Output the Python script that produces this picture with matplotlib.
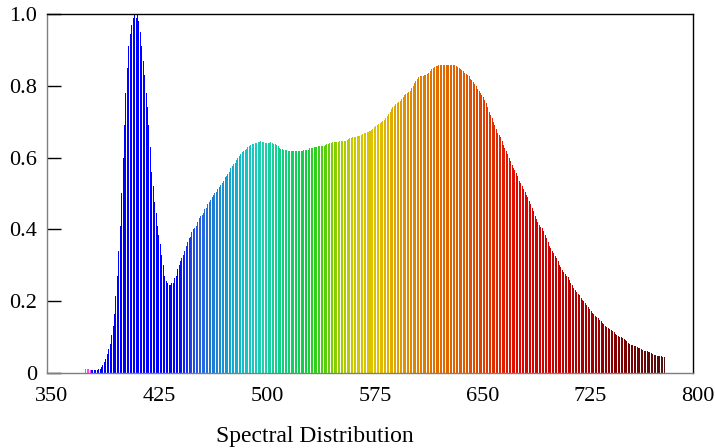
import numpy as np
import matplotlib
matplotlib.use("Agg")
import matplotlib.pyplot as plt
from matplotlib.colors import LinearSegmentedColormap, Normalize
from matplotlib.transforms import ScaledTranslation

# wavelength grid of the measured spectrum (1 nm steps)
wavelengths = np.arange(377, 781)

# relative intensity, in blocks of 10 nm
intensity_377_399 = [0.011, 0.011, 0.011,
                     0.008, 0.008, 0.008, 0.008, 0.008, 0.009, 0.010, 0.012, 0.016, 0.022,
                     0.030, 0.040, 0.052, 0.066, 0.082, 0.105, 0.130, 0.165, 0.215, 0.270]
intensity_400s = [0.34, 0.41, 0.50, 0.60, 0.69, 0.78, 0.85, 0.91, 0.945, 0.97,
                  0.99, 1.00, 0.99, 1.00, 0.98, 0.95, 0.91, 0.87, 0.83, 0.78,
                  0.74, 0.69, 0.63, 0.56, 0.52, 0.475, 0.445, 0.41, 0.385, 0.36,
                  0.33, 0.30, 0.27, 0.255, 0.25, 0.245, 0.245, 0.25, 0.25, 0.265,
                  0.27, 0.29, 0.30, 0.312, 0.32, 0.33, 0.34, 0.355, 0.365, 0.375,
                  0.38, 0.393, 0.40, 0.405, 0.41, 0.42, 0.432, 0.436, 0.44, 0.446,
                  0.456, 0.46, 0.47, 0.475, 0.483, 0.49, 0.495, 0.50, 0.505, 0.512,
                  0.518, 0.523, 0.53, 0.535, 0.545, 0.55, 0.555, 0.56, 0.57, 0.576,
                  0.582, 0.586, 0.592, 0.598, 0.605, 0.61, 0.615, 0.618, 0.621, 0.625,
                  0.629, 0.632, 0.635, 0.637, 0.639, 0.64, 0.641, 0.643, 0.644, 0.645]
intensity_500s = [0.644, 0.643, 0.642, 0.64, 0.64, 0.642, 0.643, 0.64, 0.638, 0.637,
                  0.635, 0.632, 0.628, 0.625, 0.623, 0.622, 0.621, 0.62, 0.619, 0.618,
                  0.618, 0.619, 0.619, 0.618, 0.617, 0.617, 0.617, 0.618, 0.619, 0.62,
                  0.621, 0.621, 0.622, 0.626, 0.628, 0.628, 0.629, 0.629, 0.63, 0.631,
                  0.632, 0.632, 0.633, 0.633, 0.635, 0.637, 0.638, 0.64, 0.642, 0.643,
                  0.643, 0.643, 0.643, 0.644, 0.645, 0.646, 0.646, 0.645, 0.645, 0.648,
                  0.652, 0.654, 0.655, 0.657, 0.657, 0.658, 0.659, 0.66, 0.661, 0.663,
                  0.666, 0.668, 0.669, 0.67, 0.671, 0.673, 0.676, 0.68, 0.684, 0.687,
                  0.69, 0.693, 0.695, 0.699, 0.703, 0.706, 0.711, 0.716, 0.722, 0.728,
                  0.735, 0.74, 0.745, 0.75, 0.752, 0.755, 0.757, 0.763, 0.77, 0.775]
intensity_600s = [0.778, 0.781, 0.784, 0.786, 0.793, 0.8, 0.807, 0.813, 0.82, 0.825,
                  0.826, 0.827, 0.828, 0.829, 0.83, 0.833, 0.835, 0.842, 0.846, 0.85,
                  0.852, 0.854, 0.856, 0.858, 0.857, 0.858, 0.857, 0.858, 0.858, 0.857,
                  0.859, 0.858, 0.859, 0.857, 0.858, 0.855, 0.852, 0.849, 0.846, 0.843,
                  0.84, 0.837, 0.833, 0.83, 0.826, 0.82, 0.815, 0.81, 0.805, 0.799,
                  0.792, 0.785, 0.779, 0.774, 0.77, 0.76, 0.753, 0.74, 0.728, 0.72,
                  0.71, 0.70, 0.69, 0.68, 0.668, 0.664, 0.656, 0.645, 0.635, 0.628,
                  0.617, 0.61, 0.60, 0.59, 0.58, 0.57, 0.565, 0.558, 0.55, 0.535,
                  0.528, 0.52, 0.512, 0.505, 0.497, 0.49, 0.48, 0.47, 0.46, 0.45,
                  0.438, 0.43, 0.42, 0.413, 0.407, 0.403, 0.395, 0.385, 0.375, 0.365]
intensity_700s = [0.355, 0.348, 0.34, 0.333, 0.326, 0.32, 0.312, 0.302, 0.294, 0.288,
                  0.28, 0.275, 0.27, 0.267, 0.26, 0.252, 0.245, 0.236, 0.23, 0.225,
                  0.22, 0.217, 0.21, 0.204, 0.20, 0.195, 0.19, 0.184, 0.177, 0.172,
                  0.168, 0.163, 0.16, 0.156, 0.152, 0.148, 0.144, 0.14, 0.136, 0.132,
                  0.128, 0.125, 0.122, 0.12, 0.117, 0.113, 0.11, 0.107, 0.104, 0.101,
                  0.099, 0.097, 0.094, 0.092, 0.088, 0.084, 0.081, 0.079, 0.077, 0.075,
                  0.074, 0.072, 0.07, 0.069, 0.066, 0.064, 0.062, 0.061, 0.06, 0.059,
                  0.058, 0.055, 0.052, 0.05, 0.049, 0.048, 0.047, 0.046, 0.046, 0.045,
                  0.045]
intensity = np.array(intensity_377_399 + intensity_400s + intensity_500s
                     + intensity_600s + intensity_700s)

x_ticks = [350, 425, 500, 575, 650, 725, 800]
y_ticks = [0, 0.2, 0.4, 0.6, 0.8, 1.0]
y_tick_labels = ["0", "0.2", "0.4", "0.6", "0.8", "1.0"]

# colour of each bar, looked up from the wavelength
color_stops = [(377, "#ff40ff"), (379.4, "#ff40ff"), (379.6, "#0000ff"), (440, "#0000ff"),
               (455, "#2a5ee0"), (465, "#1e7ad4"), (478, "#10a8d0"), (488, "#10c4c8"),
               (500, "#20d0b0"), (512, "#10d088"), (530, "#10d040"), (540, "#40d010"),
               (552, "#90d000"), (565, "#d0c800"), (580, "#e0c000"), (592, "#e0a800"),
               (602, "#e08c00"), (620, "#e07000"), (640, "#e05c00"), (655, "#e03c00"),
               (670, "#e01800"), (682, "#e00000"), (700, "#cc0000"), (730, "#a00000"),
               (755, "#780000"), (780, "#501010")]
lo, hi = color_stops[0][0], color_stops[-1][0]
spectrum_cmap = LinearSegmentedColormap.from_list(
    "spectrum", [((w - lo) / (hi - lo), c) for w, c in color_stops])
bar_colors = spectrum_cmap(Normalize(lo, hi)(wavelengths))

plt.rcParams["font.family"] = ["Liberation Serif", "DejaVu Serif"]

fig = plt.figure(figsize=(7.15, 4.48), dpi=100)
ax = fig.add_axes([47 / 715, 1 - 373 / 448, 646 / 715, 359 / 448])

ax.bar(wavelengths, intensity, width=0.7, color=bar_colors, linewidth=0)

ax.set_xlim(350, 800)
ax.set_ylim(0, 1.0)
ax.set_xticks(x_ticks)
ax.set_yticks(y_ticks)
ax.set_yticklabels(y_tick_labels)
ax.tick_params(axis="x", length=0, pad=10, labelsize=16)
ax.tick_params(axis="y", direction="in", length=10, width=1, color="black",
               pad=7, labelsize=16)

# x labels sit a few pixels right of their ticks in the reference
shift = ScaledTranslation(5 / 100, 0, fig.dpi_scale_trans)
for lbl in ax.get_xticklabels():
    lbl.set_transform(lbl.get_transform() + shift)

for side in ["top", "right"]:
    ax.spines[side].set_color("black")
    ax.spines[side].set_linewidth(1)
for side in ["left", "bottom"]:
    ax.spines[side].set_color("#7f7f7f")
    ax.spines[side].set_linewidth(1)

fig.text(315 / 715, 1 - 436 / 448, "Spectral Distribution", ha="center", va="center",
         fontsize=17)

fig.savefig("out.png", dpi=100)
